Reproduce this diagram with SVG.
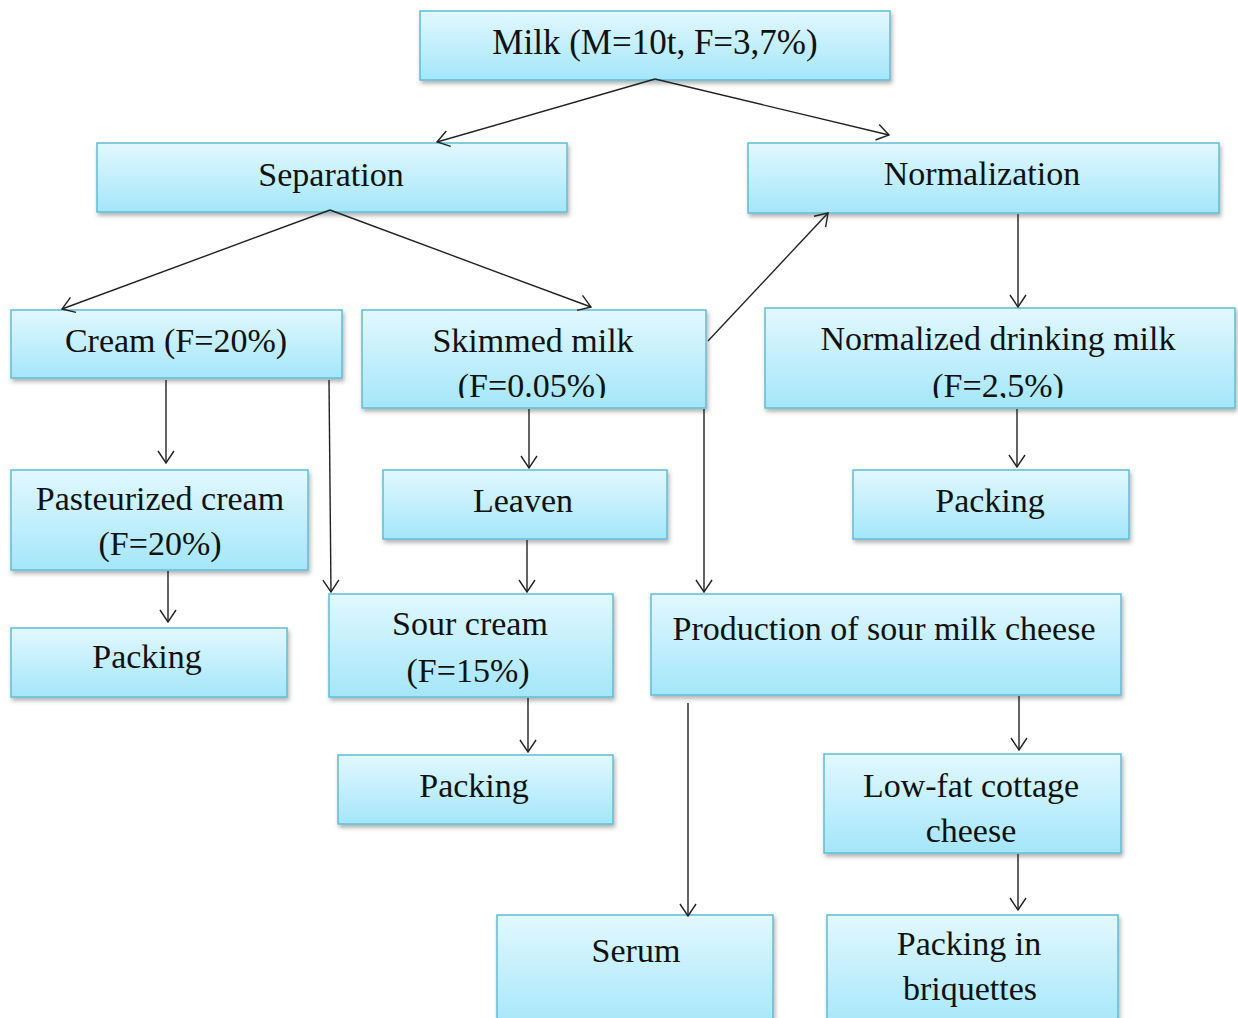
<svg xmlns="http://www.w3.org/2000/svg" width="1238" height="1018" viewBox="0 0 1238 1018">
<style>
.box{fill:url(#g);stroke:#5fbdd6;stroke-width:1.5;filter:url(#sh)}
.t{font-family:"Liberation Serif","Times New Roman",serif;font-size:34px;fill:#111;text-anchor:middle}
.c{fill:none;stroke:#222;stroke-width:1.4;marker-end:url(#a)}
</style>
<defs>
<linearGradient id="g" x1="0" y1="0" x2="0" y2="1">
<stop offset="0" stop-color="#e2f8fe"/>
<stop offset="1" stop-color="#a4e6fa"/>
</linearGradient>
<filter id="sh" x="-5%" y="-10%" width="110%" height="130%">
<feDropShadow dx="1.5" dy="3" stdDeviation="2" flood-color="#000" flood-opacity="0.3"/>
</filter>
<marker id="a" viewBox="0 0 14 18" refX="13" refY="9" markerWidth="14" markerHeight="18" markerUnits="userSpaceOnUse" orient="auto">
<path d="M1,1 L13,9 L1,17" fill="none" stroke="#222" stroke-width="1.4"/>
</marker>
<clipPath id="clipSk"><rect x="362" y="310" width="344" height="88"/></clipPath>
<clipPath id="clipNd"><rect x="765" y="308" width="470" height="90"/></clipPath>
</defs>

<g id="milk"><rect class="box" x="420" y="11" width="470" height="69"/><text class="t" x="655" y="54" style="font-size:35px">Milk (M=10t, F=3,7%)</text></g>
<g id="separation"><rect class="box" x="97" y="143" width="470" height="69"/><text class="t" x="331" y="186">Separation</text></g>
<g id="normalization"><rect class="box" x="748" y="143" width="471" height="70"/><text class="t" x="982" y="185">Normalization</text></g>
<g id="cream"><rect class="box" x="11" y="310" width="331" height="68"/><text class="t" x="176" y="352">Cream (F=20%)</text></g>
<g id="skimmed"><rect class="box" x="362" y="310" width="344" height="98"/><text class="t" x="533" y="352">Skimmed milk</text><text class="t" x="532" y="397" clip-path="url(#clipSk)">(F=0.05%)</text></g>
<g id="normalized-milk"><rect class="box" x="765" y="308" width="470" height="100"/><text class="t" x="998" y="350">Normalized drinking milk</text><text class="t" x="998" y="397" clip-path="url(#clipNd)">(F=2,5%)</text></g>
<g id="pasteurized"><rect class="box" x="11" y="470" width="297" height="100"/><text class="t" x="160" y="510">Pasteurized cream</text><text class="t" x="160" y="555">(F=20%)</text></g>
<g id="leaven"><rect class="box" x="383" y="470" width="284" height="69"/><text class="t" x="523" y="512">Leaven</text></g>
<g id="packing-nm"><rect class="box" x="853" y="470" width="276" height="69"/><text class="t" x="990" y="512">Packing</text></g>
<g id="packing-cream"><rect class="box" x="11" y="628" width="276" height="69"/><text class="t" x="147" y="668">Packing</text></g>
<g id="sour-cream"><rect class="box" x="329" y="594" width="284" height="103"/><text class="t" x="470" y="635">Sour cream</text><text class="t" x="468" y="682">(F=15%)</text></g>
<g id="production"><rect class="box" x="651" y="594" width="470" height="101"/><text class="t" x="884" y="640">Production of sour milk cheese</text></g>
<g id="packing-sc"><rect class="box" x="338" y="755" width="275" height="69"/><text class="t" x="474" y="797">Packing</text></g>
<g id="cottage"><rect class="box" x="824" y="754" width="297" height="99"/><text class="t" x="971" y="797">Low-fat cottage</text><text class="t" x="971" y="842">cheese</text></g>
<g id="serum"><rect class="box" x="497" y="915" width="276" height="115"/><text class="t" x="636" y="962">Serum</text></g>
<g id="briquettes"><rect class="box" x="827" y="915" width="291" height="115"/><text class="t" x="969" y="955">Packing in</text><text class="t" x="970" y="1000">briquettes</text></g>

<g id="connectors">
<line class="c" x1="655" y1="79" x2="437" y2="142"/>
<line class="c" x1="655" y1="79" x2="889" y2="135"/>
<line class="c" x1="330" y1="210" x2="62" y2="309"/>
<line class="c" x1="330" y1="210" x2="591" y2="307"/>
<line class="c" x1="708" y1="341" x2="828" y2="213"/>
<line class="c" x1="1018" y1="214" x2="1018" y2="307"/>
<line class="c" x1="166" y1="380" x2="166" y2="463"/>
<line class="c" x1="329" y1="380" x2="331" y2="592"/>
<line class="c" x1="529" y1="409" x2="529" y2="468"/>
<line class="c" x1="704" y1="409" x2="704" y2="592"/>
<line class="c" x1="1017" y1="409" x2="1017" y2="467"/>
<line class="c" x1="168" y1="571" x2="168" y2="622"/>
<line class="c" x1="527" y1="540" x2="527" y2="592"/>
<line class="c" x1="528" y1="698" x2="528" y2="752"/>
<line class="c" x1="1019" y1="696" x2="1019" y2="750"/>
<line class="c" x1="688" y1="703" x2="688" y2="916"/>
<line class="c" x1="1018" y1="854" x2="1018" y2="910"/>
</g>
</svg>
